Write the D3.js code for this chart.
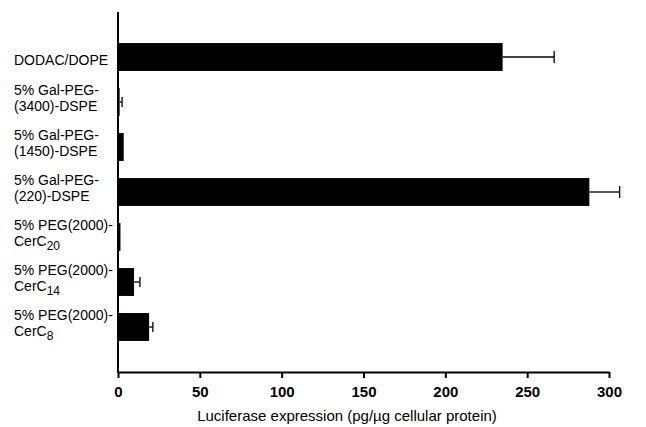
<!DOCTYPE html>
<html>
<head>
<meta charset="utf-8">
<script src="https://cdnjs.cloudflare.com/ajax/libs/d3/7.8.5/d3.min.js"></script>
<style>
body { margin: 0; background: #fff; }
svg { font-family: "Liberation Sans", Arial, sans-serif; }
</style>
</head>
<body>
<script>
// category label lines; second line may carry a subscript
var labelLine1 = ["DODAC/DOPE", "5% Gal-PEG-", "5% Gal-PEG-", "5% Gal-PEG-", "5% PEG(2000)-", "5% PEG(2000)-", "5% PEG(2000)-"];
var labelLine2 = ["", "(3400)-DSPE", "(1450)-DSPE", "(220)-DSPE", "CerC", "CerC", "CerC"];
var labelSub = ["", "", "", "", "20", "14", "8"];
var values = [235, 1, 3.5, 288, 1.5, 9.8, 19];
var errors = [31.5, 1.5, 0, 18.5, 0, 3.6, 2.3];
var xTicks = [0, 50, 100, 150, 200, 250, 300];
var xTitle = "Luciferase expression (pg/\u00b5g cellular protein)";

var width = 646, height = 427;
var svg = d3.select("body").append("svg")
	.attr("width", width)
	.attr("height", height);

var data = labelLine1.map(function(d, i){
	return {id: i, l1: d, l2: labelLine2[i], sub: labelSub[i], v: values[i], e: errors[i]};
});

var x = d3.scaleLinear().domain([0, 300]).range([118, 609]);
var y = d3.scaleBand().domain(d3.range(data.length)).range([34.5, 349.5]).paddingInner(0.38).paddingOuter(0.19);

// bars
svg.selectAll("rect.bar")
	.data(data)
	.enter()
		.append("rect")
		.attr("class", "bar")
		.attr("x", x(0))
		.attr("y", function(d){return y(d.id)})
		.attr("width", function(d){return x(d.v) - x(0)})
		.attr("height", y.bandwidth())
		.attr("fill", "#000");

// error bars
var eb = svg.selectAll("g.err")
	.data(data.filter(function(d){return d.e > 0}))
	.enter()
		.append("g")
		.attr("class", "err")
		.attr("stroke", "#000")
		.attr("stroke-width", 1.3);
eb.append("line")
	.attr("x1", function(d){return x(d.v)})
	.attr("x2", function(d){return x(d.v + d.e)})
	.attr("y1", function(d){return y(d.id) + y.bandwidth()/2})
	.attr("y2", function(d){return y(d.id) + y.bandwidth()/2});
eb.append("line")
	.attr("x1", function(d){return x(d.v + d.e)})
	.attr("x2", function(d){return x(d.v + d.e)})
	.attr("y1", function(d){return y(d.id) + y.bandwidth()/2 - (d.v > 100 ? 6 : 5)})
	.attr("y2", function(d){return y(d.id) + y.bandwidth()/2 + (d.v > 100 ? 6 : 5)});

// category labels
var labels = svg.selectAll("text.cat")
	.data(data)
	.enter()
		.append("text")
		.attr("class", "cat")
		.attr("x", 14)
		.attr("font-size", "14px")
		.attr("fill", "#000");
labels.each(function(d){
	var t = d3.select(this);
	var cy = y(d.id) + y.bandwidth()/2;
	if (d.l2 === ""){
		t.attr("y", cy + 8).text(d.l1);
		return;
	}
	t.append("tspan").attr("x", 14).attr("y", cy - 7).text(d.l1);
	t.append("tspan").attr("x", 14).attr("y", cy + 9).text(d.l2);
	if (d.sub !== ""){
		t.append("tspan").attr("dy", 4).attr("font-size", "12px").text(d.sub);
	}
});

// x axis
var xAxis = d3.axisBottom(x)
	.tickValues(xTicks)
	.tickSize(6)
	.tickSizeOuter(0)
	.tickFormat(d3.format("d"));

var gx = svg.append("g")
	.attr("transform", "translate(0, 372)")
	.call(xAxis);
gx.select(".domain").attr("stroke-width", 2);
gx.selectAll(".tick line").attr("stroke-width", 2);
gx.selectAll(".tick text")
	.attr("font-family", "Liberation Sans, Arial, sans-serif")
	.attr("font-size", "15px")
	.attr("font-weight", "bold")
	.attr("dy", "1.05em");

// y axis line (no ticks)
svg.append("line")
	.attr("x1", x(0)).attr("x2", x(0))
	.attr("y1", 12).attr("y2", 373)
	.attr("stroke", "#000")
	.attr("stroke-width", 2);

svg.append("text")
	.attr("x", 347)
	.attr("y", 421)
	.attr("text-anchor", "middle")
	.attr("font-size", "15px")
	.text(xTitle);
</script>
</body>
</html>
